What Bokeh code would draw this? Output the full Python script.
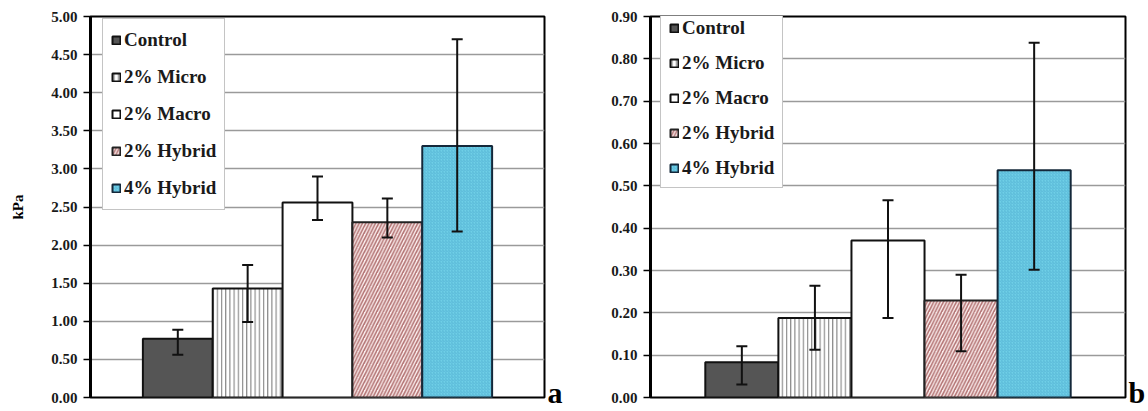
from bokeh.plotting import figure
from bokeh.models import (ColumnDataSource, Whisker, TeeHead, FixedTicker, LinearAxis,
                          NumeralTickFormatter, FactorRange)
from bokeh.layouts import row
from bokeh.embed import file_html
from bokeh.resources import INLINE

# ---------------- data ----------------
categories = ["Control", "2% Micro", "2% Macro", "2% Hybrid", "4% Hybrid"]

values_a = [0.77, 1.43, 2.56, 2.30, 3.30]
err_lo_a = [0.56, 0.99, 2.33, 2.10, 2.18]
err_hi_a = [0.89, 1.74, 2.90, 2.61, 4.70]
ticks_a = [0.0, 0.5, 1.0, 1.5, 2.0, 2.5, 3.0, 3.5, 4.0, 4.5, 5.0]

values_b = [0.083, 0.188, 0.371, 0.229, 0.537]
err_lo_b = [0.031, 0.113, 0.188, 0.109, 0.302]
err_hi_b = [0.121, 0.264, 0.466, 0.290, 0.838]
ticks_b = [0.0, 0.1, 0.2, 0.3, 0.4, 0.5, 0.6, 0.7, 0.8, 0.9]

# ---------------- styles ----------------
FONT = "Liberation Serif"
fills = ["#555555", "white", "white", "#fcefef", "#6fcfe7"]
hatches = [" ", "vertical_line", " ", "right_diagonal_line", "right_diagonal_line"]
hatch_colors = ["#555555", "#8a8a8a", "white", "#b37474", "#55b5d4"]
hatch_scales = [4, 4.2, 4, 6.5, 3]
hatch_weights = [1, 1.2, 1, 1.6, 0.8]
outline_colors = ["#111111", "#111111", "#111111", "#222222", "#14283a"]


def make_panel(values, lo, hi, ticks, ymax, letter, width, border_left, border_right,
               ylabel, legend_loc, label_h, spacing):
    p = figure(width=width, height=411, output_backend="svg", toolbar_location=None,
               x_range=FactorRange(*categories, range_padding=0.3),
               y_range=(0, ymax), x_axis_location=None,
               min_border_left=border_left, min_border_right=border_right,
               min_border_top=16, min_border_bottom=14)
    p.outline_line_color = "black"
    p.outline_line_width = 2
    p.outline_line_alpha = 1
    p.xgrid.visible = False
    p.ygrid.grid_line_color = "#9a9a9a"
    p.ygrid.grid_line_width = 1.5
    p.ygrid.ticker = FixedTicker(ticks=ticks)

    ax = p.yaxis[0]
    ax.ticker = FixedTicker(ticks=ticks)
    ax.formatter = NumeralTickFormatter(format="0.00")
    ax.axis_line_width = 3
    ax.axis_line_color = "black"
    ax.major_tick_line_width = 1.5
    ax.major_tick_out = 7
    ax.major_tick_in = 0
    ax.minor_tick_line_color = None
    ax.major_label_text_font = FONT
    ax.major_label_text_font_style = "bold"
    ax.major_label_text_font_size = "15px"
    ax.major_label_text_color = "#1a1a1a"
    ax.major_label_standoff = 6
    if ylabel:
        ax.axis_label = ylabel
        ax.axis_label_text_font = FONT
        ax.axis_label_text_font_style = "bold"
        ax.axis_label_text_font_size = "15px"
        ax.axis_label_text_color = "black"
        ax.axis_label_standoff = 22

    for i, c in enumerate(categories):
        p.vbar(x=[c], top=[values[i]], width=1.0,
               fill_color=fills[i], hatch_pattern=hatches[i],
               hatch_color=hatch_colors[i], hatch_scale=hatch_scales[i],
               hatch_weight=hatch_weights[i],
               line_color=outline_colors[i], line_width=2, legend_label=c)

    src = ColumnDataSource(dict(cat=categories, lo=lo, hi=hi))
    w = Whisker(base="cat", lower="lo", upper="hi", source=src,
                line_color="#111111", line_width=2, level="overlay",
                upper_head=TeeHead(size=11, line_width=2, line_color="#111111"),
                lower_head=TeeHead(size=11, line_width=2, line_color="#111111"))
    p.add_layout(w)

    lg = p.legend[0]
    lg.location = legend_loc
    lg.label_text_font = FONT
    lg.label_text_font_style = "bold"
    lg.label_text_font_size = "19px"
    lg.label_text_color = "#1a1a1a"
    lg.glyph_width = 10
    lg.glyph_height = 10
    lg.label_standoff = 3
    lg.label_height = label_h
    lg.spacing = spacing
    lg.padding = 8
    lg.margin = 0
    lg.border_line_color = "#8a8a8a"
    lg.border_line_width = 1.2
    lg.background_fill_color = "white"
    lg.background_fill_alpha = 1

    # panel letter ("a" / "b") as the single label of an unlined right axis
    rax = LinearAxis(ticker=FixedTicker(ticks=[0]),
                     major_label_overrides={0: letter},
                     axis_line_color=None, major_tick_line_color=None,
                     minor_tick_line_color=None, major_tick_out=0, major_tick_in=0,
                     major_label_standoff=3,
                     major_label_text_font=FONT, major_label_text_font_style="bold",
                     major_label_text_font_size="30px", major_label_text_color="black")
    p.add_layout(rax, "right")
    return p


pa = make_panel(values_a, err_lo_a, err_hi_a, ticks_a, 5.0, "a",
                width=565, border_left=90, border_right=20, ylabel="kPa",
                legend_loc=(12, 187), label_h=26, spacing=11)
pb = make_panel(values_b, err_lo_b, err_hi_b, ticks_b, 0.9, "b",
                width=583, border_left=85, border_right=20, ylabel=None,
                legend_loc=(10, 209), label_h=20, spacing=13)

layout = row(pa, pb)
open("out.html", "w").write(file_html(layout, INLINE))
